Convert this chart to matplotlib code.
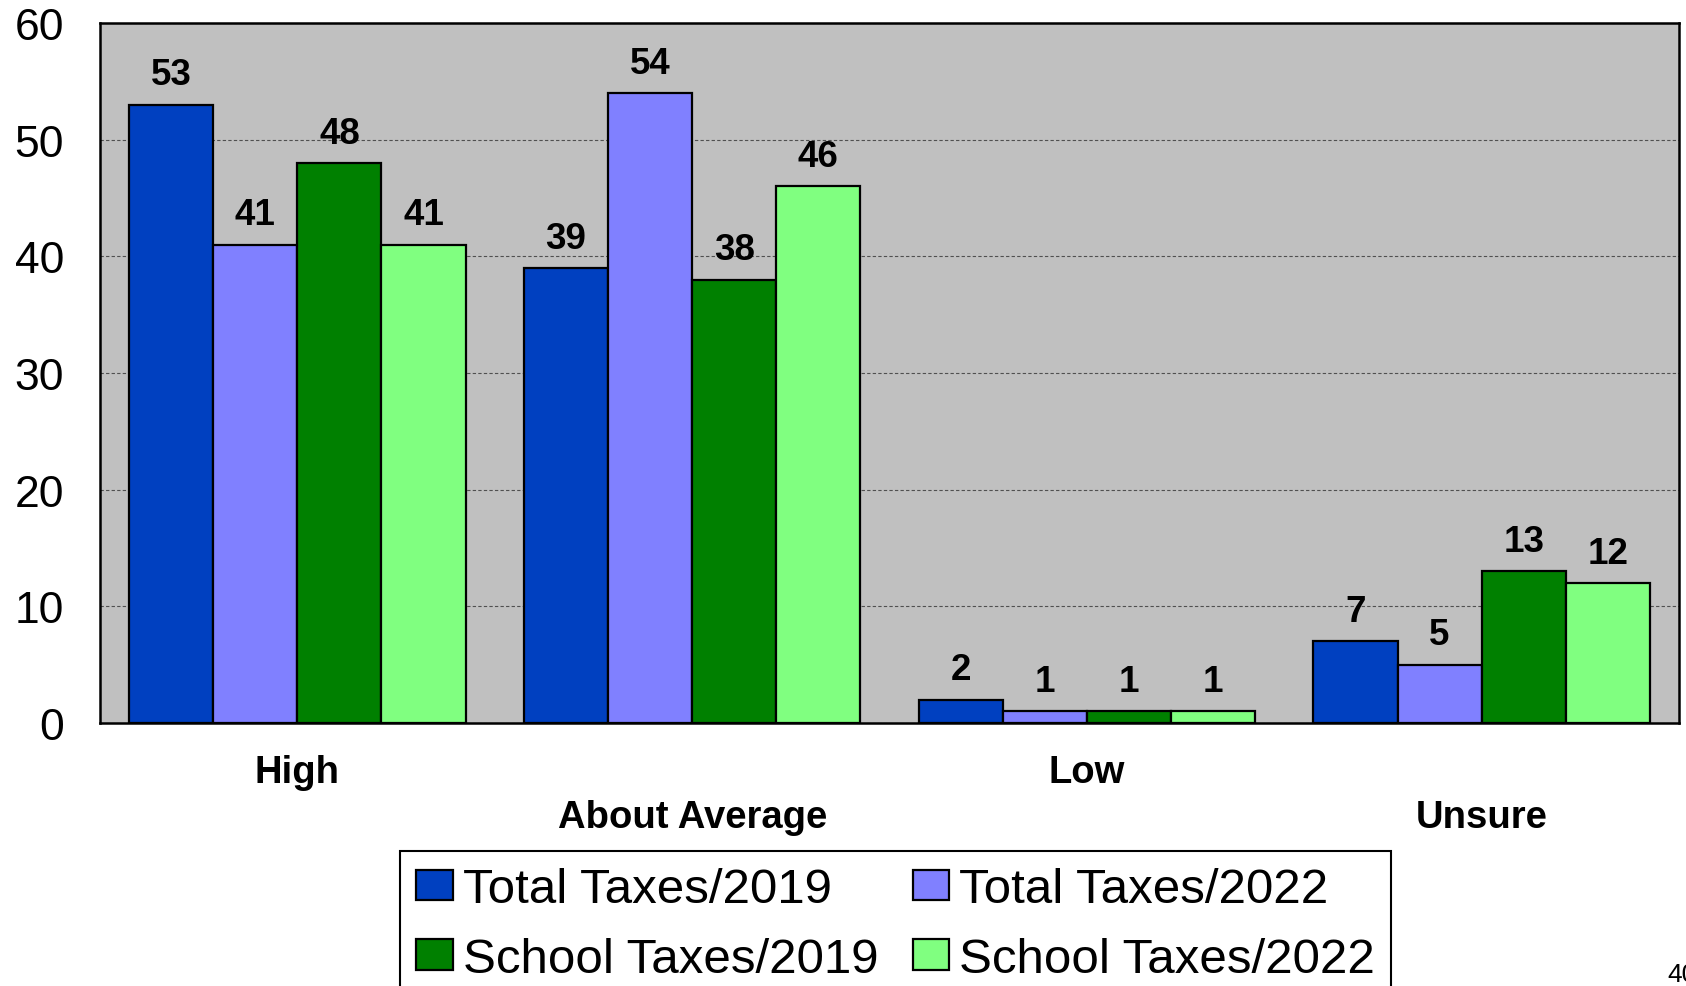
import matplotlib
matplotlib.use("Agg")
import matplotlib.pyplot as plt
import matplotlib.transforms as mtransforms
import numpy as np

plt.rcParams['font.family'] = ['Liberation Sans', 'DejaVu Sans']

# categories and the four series shown for each one
categories = ["High", "About Average", "Low", "Unsure"]
series_names = ["Total Taxes/2019", "Total Taxes/2022", "School Taxes/2019", "School Taxes/2022"]
total_2019 = [53, 39, 2, 7]
total_2022 = [41, 54, 1, 5]
school_2019 = [48, 38, 1, 13]
school_2022 = [41, 46, 1, 12]
y_ticks = [0, 10, 20, 30, 40, 50, 60]
page_number = "40"

colors = ["#0040C0", "#8080FF", "#008000", "#80FF80"]
values = [total_2019, total_2022, school_2019, school_2022]

fig = plt.figure(figsize=(16.86, 9.87), dpi=100)
ax = fig.add_axes([100 / 1686, (987 - 724) / 987, 1579 / 1686, 700 / 987])
ax.set_facecolor("#C0C0C0")

x = np.arange(len(categories))
width = 0.213
bars = []
for i, (name, vals, col) in enumerate(zip(series_names, values, colors)):
    b = ax.bar(x + (i - 1.5) * width, vals, width, color=col, edgecolor="black",
               linewidth=1.6, label=name, zorder=3)
    bars.append(b)
    for rect, v in zip(b, vals):
        ax.annotate(str(v), (rect.get_x() + rect.get_width() / 2, v),
                    xytext=(0, 21.5), textcoords="offset points",
                    ha="center", va="center", fontsize=26.5, fontweight="bold")

ax.set_xlim(-0.5, len(categories) - 0.5)
ax.set_ylim(0, 60)
ax.set_yticks(y_ticks)
ax.tick_params(axis="y", length=0, pad=26, labelsize=32)
ax.set_xticks([])
ax.yaxis.grid(True, linestyle=(0, (3, 2)), color="#505050", linewidth=0.8, zorder=0)
ax.set_axisbelow(True)
for s in ax.spines.values():
    s.set_linewidth(1.8)
    s.set_color("black")

# staggered category labels under the groups
trans = mtransforms.blended_transform_factory(ax.transData, fig.transFigure)
for i, cat in enumerate(categories):
    ypix = 773 if i % 2 == 0 else 818
    ax.text(i, 1 - ypix / 987, cat, transform=trans, ha="center", va="center",
            fontsize=27.5, fontweight="bold")

handles = [bars[0], bars[2], bars[1], bars[3]]
labels = [series_names[0], series_names[2], series_names[1], series_names[3]]
leg = fig.legend(handles, labels, ncol=2, loc="upper left",
                 bbox_to_anchor=(400 / 1686, 1 - 852 / 987), fontsize=35.5,
                 frameon=True, fancybox=False, edgecolor="black", framealpha=1,
                 handlelength=0.74, handleheight=0.58, handletextpad=0.2,
                 columnspacing=0.7, labelspacing=0.5, borderpad=0.33,
                 borderaxespad=0)
leg.get_frame().set_linewidth(1.5)

fig.text(1667 / 1686, 1 - 975 / 987, page_number, fontsize=19, ha="left", va="center")

fig.savefig("out.png", dpi=100)
